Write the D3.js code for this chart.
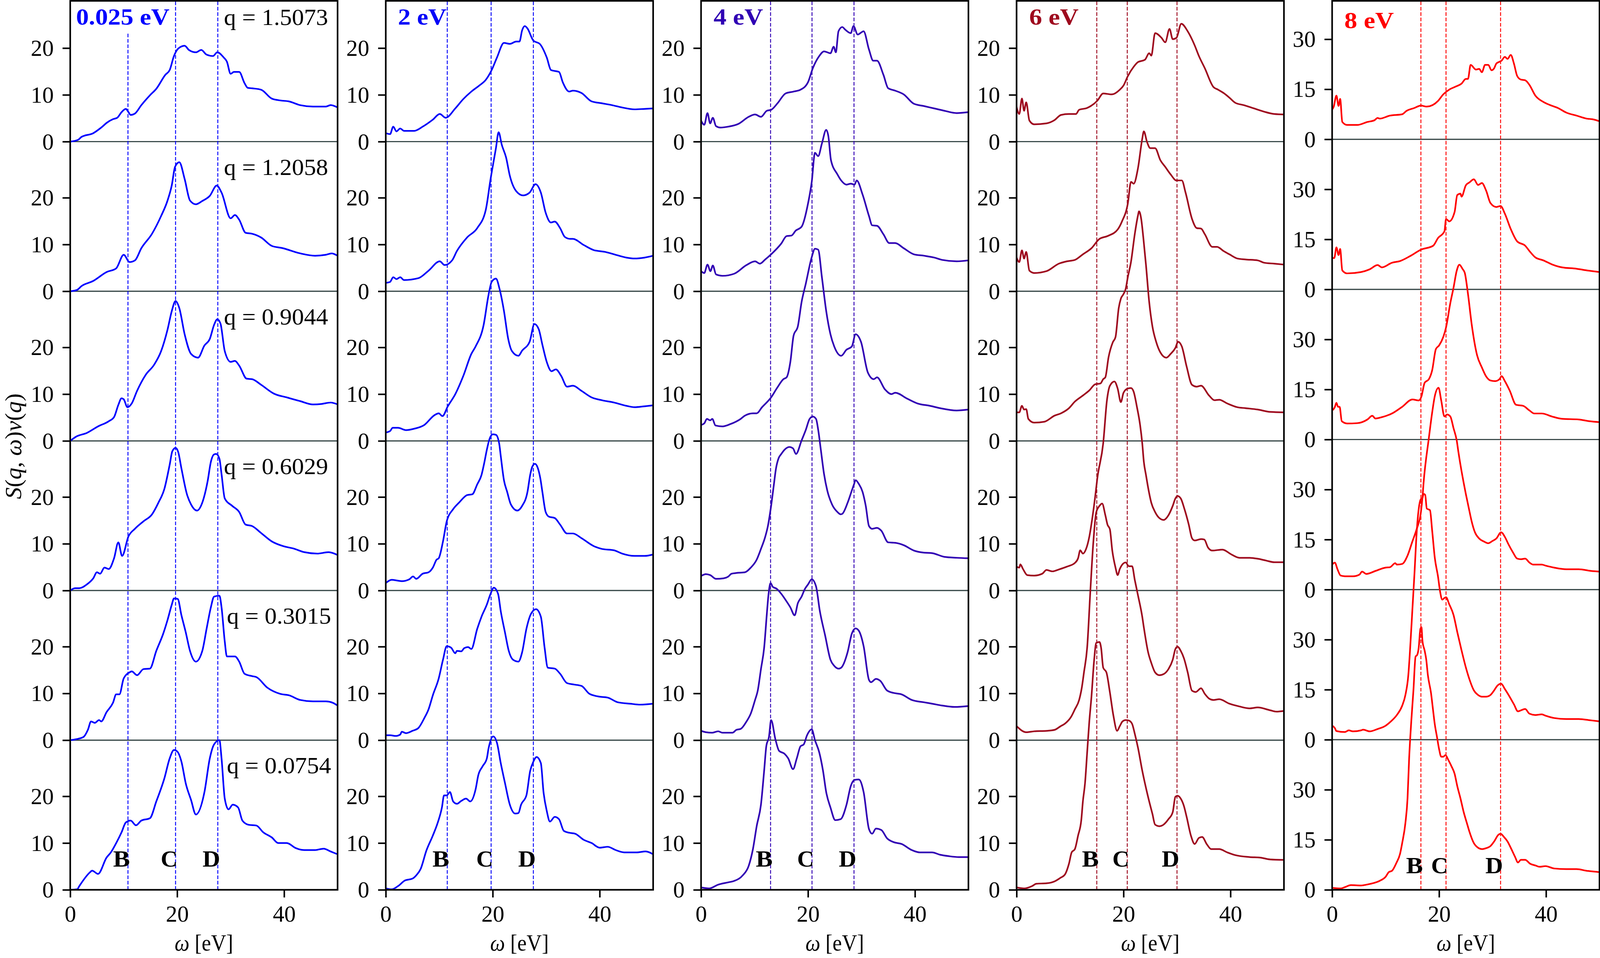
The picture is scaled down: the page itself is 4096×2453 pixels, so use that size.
<!DOCTYPE html>
<html><head><meta charset="utf-8">
<script src="https://cdn.jsdelivr.net/npm/d3@7"></script>
<style>html,body{margin:0;padding:0;background:#fff}svg{display:block}</style>
</head><body><svg id="chart"></svg>
<script>
// ---------------- data ----------------
const energies = ["0.025 eV", "2 eV", "4 eV", "6 eV", "8 eV"];
const qValues = ["1.5073", "1.2058", "0.9044", "0.6029", "0.3015", "0.0754"];
const peakB = [10.8, 11.5, 13.0, 15.0, 16.6];
const peakC = [19.7, 19.7, 20.75, 20.7, 21.3];
const peakD = [27.6, 27.6, 28.6, 30.0, 31.5];
const peakNames = ["B", "C", "D"];
const rowStep = [32, 32, 32, 32, 45];
const yTickSets = [[0, 10, 20], [0, 10, 20], [0, 10, 20], [0, 10, 20], [0, 15, 30]];
const xTicks = [0, 20, 40];

// 0.025 eV
const s025_q15073 = [[0,0],[1.5,0.4],[2.1,1.0],[4.3,1.8],[6.0,3.2],[6.8,4.0],[8.0,4.8],[8.8,5.1],[9.6,6.3],[10.4,7.0],[10.85,6.4],[11.3,5.7],[12.1,6.0],[13.3,7.8],[14.9,9.9],[16.1,11.3],[17.8,14.3],[18.6,15.3],[19.4,18.3],[20.2,19.9],[21.4,20.5],[22.2,19.6],[23.5,19.1],[24.5,19.6],[25.5,18.6],[26.7,18.3],[27.5,19.1],[28.7,18.0],[29.3,17.1],[30.0,14.5],[30.6,14.9],[31.6,14.9],[32.6,12.5],[33.2,11.5],[34.0,11.4],[35.7,11.1],[37.7,9.2],[39.3,8.8],[40.9,8.6],[43.0,7.8],[45.4,7.5],[47.8,7.5],[48.7,7.8],[50,7.3]];
const s025_q12058 = [[0,0],[1.3,0.3],[2.1,1.1],[4.3,2.2],[6.8,4.1],[8.6,4.9],[10.0,7.8],[11.1,6.25],[12.1,6.6],[13.3,9.2],[15.3,12.3],[17.0,16.1],[18.2,19.4],[19.0,22.7],[19.6,26.6],[20.4,27.6],[21.4,24.0],[22.4,19.4],[23.5,18.6],[24.7,19.3],[26.1,20.4],[27.4,22.6],[28.3,21.1],[30.0,15.6],[30.8,16.3],[31.6,15.3],[32.8,12.5],[34.0,12.3],[35.7,11.5],[37.7,9.7],[39.8,9.2],[43.0,8.1],[45.8,7.6],[47.8,7.8],[48.9,8.1],[50,7.6]];
const s025_q09044 = [[0,0],[1.1,0.9],[3.1,1.7],[5.2,3.1],[7.2,4.2],[8.2,5.1],[9.0,7.7],[9.6,9.1],[10.0,8.9],[10.7,7.2],[11.5,8.0],[12.5,10.7],[14.1,14.1],[15.7,16.3],[17.0,19.2],[18.2,23.8],[19.0,27.8],[19.7,29.9],[20.4,28.4],[21.4,22.8],[22.6,18.6],[23.9,17.8],[25.1,20.4],[26.1,21.8],[26.9,24.8],[27.5,26.0],[28.1,25.1],[28.9,19.2],[30.0,16.9],[30.8,17.1],[31.6,16.1],[33.0,13.3],[34.0,13.2],[35.7,12.0],[38.1,10.1],[40.5,9.3],[43.0,8.5],[45.4,7.8],[47.0,7.9],[48.7,8.2],[50,7.8]];
const s025_q06029 = [[0,0],[0.9,0.5],[1.7,0.5],[3.1,1.3],[4.3,2.6],[5.0,3.9],[5.6,3.6],[6.4,4.9],[7.2,4.6],[8.2,6.9],[9.0,10.3],[9.7,7.4],[10.9,11.6],[12.1,13.2],[13.7,14.8],[15.3,16.3],[16.5,18.8],[17.6,21.7],[18.6,26.9],[19.1,29.8],[19.7,30.5],[20.2,29.6],[20.8,26.1],[21.8,20.7],[22.6,18.4],[23.7,17.1],[24.7,18.8],[25.7,23.4],[26.3,27.5],[26.9,29.1],[27.3,29.2],[27.9,28.2],[28.3,24.9],[28.9,19.7],[30.3,18.1],[31.6,16.8],[32.8,14.1],[34.0,13.8],[35.7,12.3],[37.7,10.5],[39.8,9.5],[41.7,9.0],[43.8,8.2],[46.2,7.9],[48.3,8.2],[50,7.6]];
const s025_q03015 = [[0,0],[1.1,0.2],[2.5,0.7],[3.3,2.2],[3.9,4.0],[4.6,3.7],[5.4,4.3],[5.8,4.0],[6.8,6.0],[8.0,8.0],[8.6,9.8],[9.2,9.8],[10.0,13.2],[11.1,14.5],[11.5,14.7],[12.5,13.9],[13.7,15.2],[14.9,15.3],[16.1,19.1],[17.4,22.8],[18.2,25.7],[19.0,29.0],[19.4,30.3],[20.1,30.2],[20.8,26.7],[21.6,23.1],[22.4,19.1],[23.5,16.8],[24.7,19.1],[25.5,23.8],[26.3,28.4],[26.9,30.7],[27.9,30.9],[28.3,28.4],[28.9,21.1],[29.3,17.9],[30.8,17.9],[31.6,16.8],[32.6,14.2],[34.0,13.7],[34.8,13.5],[36.9,11.2],[39.3,9.9],[40.9,9.6],[43.0,8.6],[45.4,8.3],[47.8,8.3],[49.1,8.0],[50,7.4]];
const s025_q00754 = [[0,0],[1.3,0.1],[1.7,0.8],[3.7,3.75],[4.1,4.1],[5.2,3.4],[6.8,6.9],[7.6,8.0],[8.6,10.0],[9.6,12.3],[10.4,14.4],[11.3,14.8],[12.3,13.8],[13.3,14.8],[14.9,15.3],[16.1,18.9],[17.6,23.8],[18.6,28.1],[19.4,29.9],[20.0,29.6],[20.8,27.4],[21.6,22.8],[22.6,19.2],[23.5,16.1],[25.1,20.9],[26.1,28.1],[26.9,31.1],[27.9,32.0],[28.3,28.1],[28.9,19.5],[29.6,17.2],[30.4,18.2],[31.4,17.6],[32.2,14.8],[33.4,13.9],[34.8,13.75],[36.1,12.3],[37.7,11.2],[38.9,10.0],[40.5,10.0],[42.2,8.9],[43.8,8.5],[45.8,8.5],[47.4,8.8],[48.7,8.2],[50,7.6]];

// 2 eV
const s2_q15073 = [[0,1.8],[0.8,1.6],[1.4,3.2],[2.0,2.2],[2.7,2.8],[3.4,2.3],[5.3,2.3],[6.9,3.2],[8.8,4.7],[10.1,5.9],[11.2,5.1],[13.0,7.1],[14.5,9.1],[16.0,10.7],[17.5,12.0],[18.7,13.2],[19.8,15.3],[20.8,18.0],[22.1,21.1],[23.2,20.9],[24.4,21.4],[25.0,21.4],[25.5,23.8],[26.0,24.7],[26.5,24.2],[27.6,21.6],[28.8,20.9],[30.1,18.0],[30.9,15.3],[32.4,14.9],[33.1,12.7],[34.3,10.7],[35.0,10.9],[36.6,10.4],[38.5,8.6],[40.4,8.2],[42.3,7.8],[44.2,7.3],[46.5,6.9],[48.4,7.0],[50,7.1]];
const s2_q12058 = [[0,1.8],[0.8,2.0],[1.4,3.0],[2.0,2.6],[2.7,3.0],[3.4,2.4],[6.1,2.8],[8.0,4.4],[10.1,6.4],[11.0,5.6],[12.4,6.6],[13.3,8.6],[15.2,11.5],[17.1,13.5],[18.7,17.4],[19.6,24.0],[20.6,30.6],[21.1,34.0],[21.7,31.3],[22.5,28.6],[23.2,24.7],[24.4,21.4],[25.7,20.5],[26.9,21.1],[28.0,22.9],[29.0,21.1],[29.9,16.8],[30.9,14.7],[31.6,14.9],[32.6,13.5],[33.5,11.6],[34.5,11.2],[35.0,11.2],[37.0,9.9],[38.9,8.8],[41.1,8.4],[42.7,7.9],[45.0,7.2],[46.5,7.0],[48.4,7.2],[50,7.6]];
const s2_q09044 = [[0,1.8],[0.8,2.1],[1.3,2.8],[2.3,2.8],[3.8,2.3],[5.3,2.6],[7.2,3.4],[9.1,5.5],[9.9,5.9],[10.6,5.3],[11.6,7.4],[13.0,10.0],[14.5,13.9],[16.0,18.6],[16.8,20.2],[18.3,24.8],[19.2,31.1],[19.8,34.0],[20.6,34.7],[21.3,32.4],[22.1,27.8],[22.9,21.8],[23.6,19.2],[24.8,18.2],[25.5,19.3],[26.9,21.2],[27.8,25.0],[28.6,23.9],[29.3,20.5],[30.1,16.9],[31.0,14.9],[31.8,15.3],[32.8,13.9],[33.9,11.6],[35.0,11.8],[36.6,10.7],[38.5,9.3],[40.4,8.7],[42.7,8.2],[45.0,7.5],[46.5,7.2],[48.4,7.4],[50,7.6]];
const s2_q06029 = [[0,1.6],[1.1,2.3],[2.3,2.1],[3.0,2.0],[4.4,2.4],[5.1,3.0],[5.7,2.5],[6.9,3.6],[8.0,3.9],[8.8,4.9],[9.5,6.6],[9.9,6.9],[10.7,10.5],[11.4,14.8],[12.6,17.4],[13.7,18.8],[15.2,20.4],[16.2,20.6],[17.1,22.7],[17.9,24.7],[18.4,27.2],[18.9,30.1],[19.4,32.4],[20.0,33.4],[20.6,33.3],[21.2,31.5],[21.5,28.8],[22.1,23.6],[22.7,21.1],[23.4,18.4],[24.6,17.1],[25.5,18.1],[26.5,21.1],[27.0,24.7],[27.4,26.5],[27.9,27.1],[28.4,26.3],[28.9,24.0],[29.3,21.0],[29.9,16.8],[30.5,15.8],[31.6,15.5],[32.6,14.1],[33.9,12.2],[35.0,12.2],[36.6,11.2],[38.9,9.5],[40.4,8.9],[42.7,8.6],[44.2,7.9],[46.5,7.4],[48.4,7.4],[50,7.7]];
const s2_q03015 = [[0,1.05],[0.8,1.05],[1.9,0.9],[2.7,1.2],[3.0,1.8],[3.8,1.5],[5.0,2.0],[6.1,2.6],[7.2,4.7],[8.0,6.6],[8.8,9.6],[9.9,13.2],[10.7,17.2],[11.4,20.1],[12.2,19.8],[13.0,18.6],[13.3,19.1],[14.1,19.0],[14.7,19.7],[15.4,19.9],[16.0,19.5],[17.1,23.8],[17.9,26.4],[18.9,29.0],[19.6,31.3],[20.2,32.6],[21.0,31.3],[21.5,27.6],[22.3,23.0],[23.0,19.1],[23.8,17.2],[24.8,16.8],[25.5,18.8],[26.3,23.8],[27.2,27.1],[28.1,28.0],[29.0,26.4],[29.7,19.8],[30.3,15.5],[31.6,15.3],[32.6,14.2],[33.9,12.2],[35.2,11.9],[36.6,11.6],[38.1,9.9],[40.0,9.3],[41.5,9.1],[43.4,8.1],[45.7,7.8],[47.6,7.6],[50,7.8]];
const s2_q00754 = [[0,0.3],[1.1,0.1],[2.3,0.8],[3.6,2.0],[5.0,2.4],[5.7,3.1],[6.5,4.4],[7.6,8.4],[8.8,11.6],[9.7,14.3],[10.5,17.6],[10.9,20.2],[11.4,20.2],[12.0,20.9],[12.6,18.9],[13.3,18.4],[14.1,19.0],[15.0,19.5],[15.8,18.9],[16.8,21.5],[17.3,24.5],[18.1,26.4],[18.9,28.1],[19.2,30.1],[20.1,32.8],[20.8,31.4],[21.5,27.1],[22.3,22.8],[23.2,18.2],[24.2,16.3],[24.8,16.4],[25.3,18.2],[26.3,20.2],[27.0,25.4],[27.6,27.4],[28.2,28.4],[29.0,27.1],[29.5,20.9],[30.1,16.9],[30.7,14.6],[31.6,15.6],[32.4,15.1],[33.3,12.6],[34.3,12.2],[35.4,12.0],[37.0,10.7],[38.5,10.0],[40.0,9.0],[41.5,9.2],[43.0,8.5],[44.6,8.0],[46.9,8.0],[48.6,8.2],[50,7.6]];

// 4 eV
const s4_q15073 = [[0,4.5],[0.6,3.6],[1.2,6.1],[1.7,3.9],[2.2,5.1],[2.8,3.3],[3.6,3.0],[5.1,3.2],[7.0,3.8],[8.9,5.3],[10.1,5.8],[11.2,5.3],[12.3,6.6],[13.1,6.8],[14.3,8.2],[15.8,10.3],[17.3,10.7],[18.6,11.1],[20.0,12.7],[20.9,15.7],[22.1,18.3],[23.0,19.3],[24.2,18.9],[24.8,20.3],[25.2,19.1],[25.7,23.6],[26.4,24.5],[27.0,23.9],[28.0,23.2],[28.5,24.7],[29.3,22.9],[30.4,23.6],[31.4,19.7],[32.2,17.3],[32.9,17.3],[34.1,14.3],[35.0,11.4],[36.3,10.9],[37.9,10.1],[39.8,8.1],[41.7,7.6],[43.6,7.1],[45.5,6.6],[47.8,6.1],[50,6.3]];
const s4_q12058 = [[0,4.3],[0.6,3.9],[1.2,5.7],[1.75,4.3],[2.2,5.5],[2.8,3.6],[4.0,3.3],[6.2,3.75],[8.5,5.6],[10.1,6.4],[11.0,5.9],[12.0,6.8],[13.1,7.9],[15.0,10.2],[16.0,11.8],[16.9,11.9],[17.7,12.96],[18.8,13.8],[20.0,18.75],[20.7,23.4],[21.3,29.6],[21.9,28.9],[22.6,31.6],[23.4,34.5],[23.8,33.2],[24.3,28.0],[25.5,25.0],[26.2,23.7],[27.2,22.8],[28.0,23.0],[28.7,22.8],[29.1,23.7],[30.2,20.7],[31.4,16.1],[32.0,14.1],[32.9,14.0],[34.1,12.2],[35.2,10.3],[36.3,10.3],[37.9,9.2],[39.8,7.9],[41.7,7.6],[43.6,7.2],[45.1,6.7],[47.8,6.4],[50,6.6]];
const s4_q09044 = [[0,3.4],[0.6,3.75],[1.1,4.7],[1.7,4.4],[2.1,4.7],[2.7,3.3],[4.0,3.1],[5.5,3.6],[7.4,4.7],[8.2,5.4],[9.7,5.9],[10.4,5.9],[11.4,7.2],[13.1,9.3],[14.2,11.3],[15.4,13.2],[16.0,13.6],[16.7,16.9],[17.3,22.5],[18.1,24.5],[18.8,29.7],[19.6,33.7],[20.7,39.3],[21.3,41.1],[21.9,40.9],[22.6,35.0],[23.4,27.8],[24.2,22.8],[24.9,20.2],[26.2,18.2],[27.2,19.5],[28.2,20.2],[28.9,22.8],[29.9,21.2],[31.2,14.6],[32.3,13.2],[32.9,13.6],[34.4,11.0],[35.6,10.0],[36.3,10.3],[38.6,9.0],[40.5,8.0],[42.8,7.5],[44.7,7.0],[47.8,6.5],[50,6.7]];
const s4_q06029 = [[0,3.1],[0.9,3.5],[1.7,3.3],[2.8,2.5],[4.2,2.6],[5.1,3.0],[5.7,3.6],[6.6,3.75],[8.2,3.9],[9.3,4.9],[10.4,6.6],[11.2,8.9],[12.0,11.5],[12.5,13.8],[13.1,18.1],[13.6,22.5],[14.0,26.0],[14.5,28.3],[15.0,29.2],[15.6,30.1],[16.5,30.7],[17.2,30.4],[17.75,29.2],[18.8,32.1],[19.6,34.4],[20.3,36.7],[20.9,37.2],[21.5,36.7],[21.9,34.4],[22.4,30.1],[23.0,24.9],[23.6,21.4],[24.5,18.4],[25.5,16.8],[26.1,16.3],[26.4,16.4],[27.4,18.75],[28.2,21.4],[28.6,22.7],[28.9,23.6],[29.5,22.8],[30.2,21.1],[30.8,18.1],[31.4,13.8],[32.0,13.2],[32.9,13.4],[33.7,12.8],[35.0,10.3],[36.3,10.2],[37.9,9.7],[39.8,8.55],[41.7,8.1],[43.2,8.0],[45.5,7.2],[47.8,7.0],[50,6.9]];
const s4_q03015 = [[0,2.0],[0.9,1.7],[2.1,1.6],[3.2,1.9],[4.0,1.6],[5.9,1.6],[6.6,2.2],[7.4,2.4],[8.5,4.0],[9.3,5.7],[10.1,8.6],[10.6,10.6],[11.2,15.2],[11.8,19.8],[12.3,27.0],[12.6,31.0],[13.0,33.6],[13.4,32.8],[14.1,32.4],[15.0,31.3],[15.8,30.0],[16.7,28.4],[17.5,26.7],[18.1,29.3],[18.8,30.7],[19.4,32.3],[20.0,33.3],[20.7,34.4],[21.5,32.9],[22.2,27.7],[23.2,22.4],[24.2,17.2],[24.9,15.9],[25.7,15.3],[26.2,15.5],[27.4,18.8],[28.2,22.8],[28.9,23.9],[29.5,23.4],[30.4,20.1],[31.4,12.9],[31.8,12.4],[32.7,13.1],[33.5,12.7],[34.8,10.6],[36.0,10.1],[37.5,9.8],[39.4,8.6],[41.7,8.1],[43.2,7.8],[45.1,7.4],[47.4,7.1],[50,7.3]];
const s4_q00754 = [[0,0.5],[1.5,0.3],[3.2,1.1],[5.1,1.6],[6.2,1.9],[7.8,3.1],[8.9,5.1],[9.7,8.7],[10.4,13.6],[11.2,18.2],[11.8,25.5],[12.2,30.7],[12.7,32.7],[13.1,36.3],[13.9,32.2],[14.6,29.7],[15.6,29.1],[16.3,28.1],[17.2,25.8],[17.9,28.1],[18.6,30.7],[19.2,31.1],[19.8,33.0],[20.7,34.3],[21.3,32.0],[22.1,29.4],[22.8,25.5],[23.4,20.9],[24.2,17.6],[25.1,14.9],[26.1,15.1],[27.2,18.2],[28.0,22.2],[28.7,23.5],[29.5,23.6],[30.4,20.9],[31.4,13.0],[32.0,12.0],[32.7,13.1],[33.7,12.8],[34.8,11.0],[36.0,10.2],[37.5,9.8],[39.4,8.5],[40.9,8.0],[43.2,8.0],[44.7,7.5],[46.3,7.2],[48.2,7.0],[50,7.0]];

// 6 eV
const s6_q15073 = [[0,7.4],[0.5,5.9],[1.0,9.2],[1.4,6.6],[1.8,8.4],[2.4,4.5],[3.3,3.7],[5.6,3.9],[7.1,4.6],[8.3,5.7],[9.8,5.9],[11.1,5.9],[11.7,6.8],[13.2,7.2],[15.1,8.75],[16.2,10.3],[17.8,10.1],[19.3,11.1],[20.0,12.0],[20.8,14.0],[21.9,16.0],[22.7,17.0],[24.0,17.5],[24.8,18.9],[25.2,18.4],[25.9,23.2],[27.1,22.2],[27.8,21.25],[28.6,24.1],[29.2,21.9],[29.9,22.2],[30.8,25.2],[32.0,23.6],[33.3,20.6],[34.1,18.3],[35.2,15.7],[36.8,11.7],[37.7,11.1],[38.7,10.4],[39.8,9.4],[40.9,8.3],[42.5,7.8],[44.4,7.1],[46.3,6.4],[48.2,5.9],[50,5.8]];
const s6_q12058 = [[0,7.2],[0.5,6.25],[1.0,8.75],[1.4,7.0],[1.8,8.4],[2.4,4.4],[3.3,3.9],[5.6,4.3],[7.9,5.9],[9.4,6.4],[10.9,6.7],[12.4,7.9],[14.0,9.2],[15.5,11.2],[17.0,11.8],[18.9,13.2],[19.7,14.9],[20.8,18.75],[21.4,23.4],[21.9,23.0],[22.7,26.3],[23.5,32.6],[23.8,34.2],[24.4,31.9],[25.0,30.6],[25.9,30.6],[26.9,28.0],[27.8,26.6],[28.8,25.0],[29.9,23.7],[30.9,23.7],[31.6,21.1],[32.8,15.5],[33.7,13.5],[34.5,13.4],[35.2,12.2],[36.6,9.5],[37.5,9.5],[38.7,8.6],[39.8,7.9],[41.3,7.0],[42.8,6.8],[45.1,6.6],[46.3,6.1],[48.2,5.9],[50,5.7]];
const s6_q09044 = [[0,6.1],[0.5,6.1],[1.0,7.5],[1.4,6.7],[1.8,6.8],[2.2,4.7],[3.3,3.9],[5.2,4.1],[7.1,5.4],[8.3,5.9],[9.8,7.0],[10.9,8.4],[12.4,9.7],[13.6,10.8],[14.7,12.1],[15.7,12.3],[16.2,13.2],[16.6,13.6],[17.2,17.9],[18.0,21.1],[18.5,22.2],[19.1,28.4],[19.5,30.4],[20.0,31.4],[20.4,32.5],[20.8,35.0],[21.4,38.3],[22.1,44.2],[22.7,48.2],[22.9,49.1],[23.3,47.5],[23.7,43.5],[24.2,37.6],[24.8,29.7],[25.4,24.5],[26.1,21.2],[26.9,18.9],[28.0,17.8],[28.8,18.6],[29.7,19.9],[30.2,21.2],[30.9,20.2],[31.8,15.9],[32.8,12.0],[33.7,11.6],[34.5,11.8],[36.0,9.7],[37.0,8.7],[37.9,8.8],[39.4,8.0],[41.3,7.2],[42.8,7.0],[45.1,6.7],[47.4,6.2],[50,6.1]];
const s6_q06029 = [[0,5.1],[0.5,4.9],[0.7,5.6],[1.2,4.6],[2.0,3.3],[3.3,3.2],[4.8,3.6],[5.6,4.4],[6.7,4.1],[7.9,4.5],[9.4,5.1],[10.9,5.9],[11.5,6.9],[11.9,8.6],[12.4,7.9],[13.0,8.9],[13.6,11.5],[14.1,15.0],[14.7,20.1],[15.1,24.0],[16.2,31.5],[16.9,40.7],[17.45,43.8],[18.3,44.7],[18.9,43.2],[19.5,40.3],[20.0,42.3],[20.8,43.2],[21.4,43.3],[21.9,42.5],[22.5,39.3],[23.1,35.4],[23.5,31.5],[23.8,27.5],[24.2,24.7],[24.6,22.0],[25.2,18.75],[25.9,16.8],[26.7,15.5],[27.5,15.1],[28.4,16.1],[29.2,18.1],[29.7,19.7],[30.1,20.2],[30.7,19.7],[31.4,17.4],[32.2,14.1],[32.8,11.2],[33.3,10.7],[34.5,11.0],[35.1,10.9],[35.8,9.2],[36.6,8.55],[38.5,8.75],[40.2,7.7],[41.7,7.0],[43.6,7.0],[45.1,6.8],[46.7,6.4],[48.2,6.05],[50,6.05]];
const s6_q03015 = [[0,3.0],[1.8,1.7],[3.3,1.9],[5.6,2.0],[7.1,2.2],[8.25,3.0],[9.0,3.5],[10.2,5.0],[10.9,6.6],[11.7,8.6],[12.2,11.25],[12.6,14.5],[13.2,19.8],[13.8,32.0],[14.3,41.5],[14.9,48.75],[15.5,50.1],[16.0,50.6],[16.6,48.1],[17.0,46.1],[17.45,45.1],[17.9,40.5],[18.5,36.9],[18.9,35.3],[19.3,36.6],[19.8,37.6],[20.4,38.0],[21.0,37.2],[21.6,37.2],[22.1,34.3],[22.7,31.0],[23.5,26.4],[23.8,24.1],[24.6,18.8],[25.2,16.5],[25.9,14.5],[26.7,13.9],[27.6,14.2],[28.4,15.2],[29.2,17.2],[29.7,19.5],[30.1,20.0],[30.7,19.1],[31.3,17.5],[32.0,14.5],[32.8,10.6],[33.5,10.3],[34.5,11.1],[35.2,9.9],[36.0,8.9],[36.8,8.6],[37.9,8.75],[39.8,7.8],[41.7,7.2],[43.6,6.8],[45.1,7.0],[47.4,6.4],[48.6,6.1],[50,6.25]];
const s6_q00754 = [[0,0.5],[1.4,0.3],[2.9,0.8],[3.7,1.3],[5.6,1.4],[7.1,1.8],[8.25,2.6],[9.0,3.2],[9.8,5.6],[10.3,8.0],[10.9,8.7],[11.5,11.6],[12.1,14.9],[12.4,18.9],[12.8,22.8],[13.2,29.4],[13.6,36.0],[14.0,41.25],[14.5,49.1],[14.9,52.8],[15.5,53.0],[15.8,51.8],[16.2,47.5],[16.8,46.5],[17.4,42.6],[18.1,37.3],[18.8,34.0],[19.3,35.0],[19.8,36.0],[20.4,36.3],[21.0,36.2],[21.6,35.5],[22.1,33.4],[22.7,30.4],[23.5,25.5],[24.0,22.8],[24.8,18.9],[25.4,16.25],[25.9,13.95],[26.7,13.6],[27.5,13.95],[28.4,15.1],[29.2,16.6],[29.7,19.9],[30.1,20.1],[30.7,19.5],[31.3,17.9],[31.8,15.6],[32.6,11.6],[33.3,9.8],[34.1,11.1],[34.7,11.3],[35.6,9.7],[36.4,8.7],[37.9,8.7],[39.4,8.0],[40.95,7.4],[43.6,7.0],[45.5,6.9],[47.4,6.5],[50,6.4]];

// 8 eV
const s8_q15073 = [[0,8.9],[0.3,9.8],[0.8,13.1],[1.2,10.0],[1.5,12.1],[1.9,5.2],[2.8,4.3],[4.7,4.3],[6.6,5.2],[7.9,5.7],[8.5,6.4],[8.9,6.2],[10.8,7.1],[13.1,7.5],[13.9,8.5],[15.4,9.4],[16.6,10.1],[17.7,9.8],[19.8,11.5],[20.8,13.5],[21.9,14.9],[23.1,15.8],[24.2,16.7],[25.0,18.1],[25.4,18.1],[25.9,22.3],[26.9,20.9],[27.5,21.1],[28.0,20.1],[28.6,22.3],[29.2,22.3],[29.8,20.7],[30.3,21.3],[30.7,22.7],[31.7,23.6],[32.3,24.7],[32.8,24.1],[33.4,25.3],[34.0,22.7],[34.6,19.0],[35.3,17.9],[36.1,17.7],[36.9,16.3],[38.0,13.1],[39.5,11.2],[40.7,10.3],[42.2,9.4],[43.8,8.0],[45.7,7.1],[47.6,6.2],[48.7,6.0],[50,5.4]];
const s8_q12058 = [[0,9.4],[0.4,9.4],[0.8,12.6],[1.2,10.3],[1.5,12.1],[1.9,5.7],[2.8,4.8],[5.4,5.2],[7.0,6.0],[8.5,7.3],[9.3,6.6],[11.2,8.0],[12.7,8.5],[14.6,10.0],[16.6,11.9],[18.9,13.1],[19.8,15.4],[21.0,17.4],[21.3,21.1],[21.9,20.4],[22.9,23.2],[23.4,28.3],[24.0,28.7],[24.2,27.8],[25.0,31.2],[25.7,32.1],[26.5,33.0],[27.3,31.3],[28.0,31.9],[28.8,29.6],[29.6,25.9],[30.7,24.7],[31.5,25.0],[32.3,22.7],[33.4,18.1],[34.6,14.4],[36.1,13.1],[36.9,11.5],[38.0,9.6],[39.5,8.7],[41.1,7.5],[43.0,6.6],[45.7,6.2],[47.6,5.7],[50,5.2]];
const s8_q09044 = [[0,8.7],[0.5,9.7],[0.8,11.0],[1.1,9.8],[1.4,9.8],[1.8,5.5],[2.8,4.8],[4.7,4.9],[6.6,6.0],[7.5,7.1],[8.1,6.3],[9.3,6.7],[11.2,7.8],[13.1,9.8],[15.0,12.0],[16.2,11.7],[16.7,12.9],[17.3,17.0],[18.1,18.1],[18.7,20.7],[19.4,27.1],[20.0,28.2],[20.8,30.8],[21.3,33.6],[22.1,40.9],[22.7,45.5],[23.3,50.6],[23.8,52.4],[24.4,51.1],[24.8,50.0],[25.4,43.7],[26.1,34.5],[27.1,25.3],[28.0,21.6],[28.8,18.9],[29.6,17.7],[30.5,17.5],[31.3,18.1],[31.7,19.0],[32.3,17.5],[33.2,14.7],[34.4,10.4],[35.7,10.1],[36.9,8.7],[37.8,7.8],[39.2,7.8],[41.1,6.9],[43.0,6.2],[46.1,6.0],[48.0,5.5],[50,5.2]];
const s8_q06029 = [[0,7.5],[0.5,8.1],[1.0,6.1],[1.6,4.2],[2.4,4.0],[3.9,4.0],[5.1,4.5],[5.6,5.4],[6.4,4.7],[8.1,5.6],[10.0,6.6],[10.8,6.7],[11.8,7.9],[12.1,7.5],[13.1,7.7],[14.1,10.2],[15.0,14.4],[15.8,18.1],[16.6,23.2],[16.9,27.8],[17.1,32.0],[18.1,45.6],[18.7,53.0],[19.2,58.0],[19.9,60.5],[20.4,56.7],[21.0,51.9],[21.5,52.5],[22.1,51.9],[22.7,48.4],[23.3,44.7],[23.6,41.4],[24.2,35.5],[24.6,32.0],[25.0,28.7],[25.6,24.1],[26.1,20.4],[26.7,17.2],[27.5,15.3],[28.4,14.4],[29.2,13.9],[30.0,14.6],[30.7,15.3],[31.6,17.2],[32.3,15.8],[33.0,13.5],[33.8,11.2],[34.6,9.3],[35.3,9.1],[36.1,9.3],[36.9,8.1],[37.6,7.5],[39.2,7.5],[39.9,7.2],[41.5,6.6],[43.8,6.1],[46.1,6.1],[48.4,5.6],[50,5.4]];
const s8_q03015 = [[0,4.2],[0.5,3.5],[0.8,2.6],[2.4,2.3],[3.1,2.8],[3.9,2.5],[5.4,2.8],[5.8,3.0],[7.0,2.5],[8.5,3.2],[10.0,4.2],[11.0,5.5],[12.1,7.4],[13.1,10.2],[13.7,13.4],[14.25,19.4],[14.6,27.7],[15.0,38.8],[15.4,49.9],[15.8,61.9],[16.2,69.3],[16.55,72.0],[16.9,72.5],[17.1,73.7],[17.4,73.4],[17.7,69.3],[18.3,68.8],[18.7,62.8],[19.2,54.5],[19.8,48.9],[20.2,44.3],[20.6,42.0],[21.0,42.5],[21.3,42.7],[21.9,40.6],[22.7,37.4],[23.4,32.3],[24.2,26.8],[25.0,21.7],[25.7,18.0],[26.5,14.8],[27.3,13.4],[28.0,12.9],[28.8,12.9],[29.6,13.4],[30.3,14.8],[30.9,16.2],[31.6,16.8],[32.3,15.2],[33.0,13.4],[34.0,10.6],[34.75,8.5],[35.3,8.8],[36.1,9.2],[36.9,7.8],[38.0,7.4],[39.2,7.6],[39.9,7.2],[41.5,6.5],[43.8,6.2],[46.1,6.2],[48.4,5.8],[50,5.5]];
const s8_q00754 = [[0,0.6],[1.6,0.4],[2.4,0.8],[3.5,1.4],[5.4,1.3],[6.6,1.6],[7.7,2.0],[8.9,2.7],[10.0,3.9],[10.6,5.3],[11.2,5.7],[12.0,8.0],[12.7,10.8],[13.1,14.0],[13.7,20.0],[14.1,27.4],[14.4,39.4],[14.8,50.5],[15.2,59.7],[15.6,69.9],[15.9,70.4],[16.2,72.7],[16.5,78.2],[16.7,78.7],[16.9,74.5],[17.3,71.7],[17.6,69.0],[17.9,64.4],[18.5,58.9],[18.85,54.2],[19.2,49.6],[19.6,45.9],[20.0,42.2],[20.4,39.9],[20.8,39.9],[21.2,40.4],[21.7,39.0],[22.3,37.1],[22.9,34.8],[23.4,31.1],[24.0,27.4],[24.6,23.3],[25.2,20.0],[25.7,17.3],[26.5,14.0],[27.3,12.6],[28.0,12.2],[28.8,12.5],[29.6,13.1],[30.3,14.5],[31.1,16.5],[31.5,16.8],[32.1,15.9],[32.8,14.5],[33.4,12.6],[34.2,9.9],[34.75,8.2],[35.3,9.0],[36.1,9.0],[37.0,7.85],[38.0,7.3],[38.8,6.9],[39.9,7.1],[41.5,6.4],[43.8,6.2],[45.7,6.2],[47.6,5.7],[50,5.3]];

const series = [
  [s025_q15073, s025_q12058, s025_q09044, s025_q06029, s025_q03015, s025_q00754],
  [s2_q15073, s2_q12058, s2_q09044, s2_q06029, s2_q03015, s2_q00754],
  [s4_q15073, s4_q12058, s4_q09044, s4_q06029, s4_q03015, s4_q00754],
  [s6_q15073, s6_q12058, s6_q09044, s6_q06029, s6_q03015, s6_q00754],
  [s8_q15073, s8_q12058, s8_q09044, s8_q06029, s8_q03015, s8_q00754]
];

// ---------------- layout & style ----------------
const W = 4177, H = 2501;
const plotTop = 2, plotBottom = 2323.2, plotW = 698;
const colLeft = [183.3, 1007.1, 1830.2, 2653.9, 3477.7];
const yMax = [190.1, 190.1, 190.1, 190.1, 266.5];
const colors = ["#0000ff", "#0404f8", "#3000b4", "#9e0a1e", "#ff0000"];
const energyDx = [15.3, 31.7, 32.8, 32.9, 32.0];
const energyBase = [64, 64, 64, 64, 73];
const energyLen = [244, 127, 129, 129, 129];
const FONT = "'Liberation Serif', 'Times New Roman', serif";
const FS = 60;

const svg = d3.select("#chart")
  .attr("width", 4096).attr("height", 2453)
  .attr("viewBox", `0 0 ${W} ${H}`);
svg.append("rect").attr("width", W).attr("height", H).attr("fill", "#fff");

const defs = svg.append("defs");

energies.forEach((eLabel, c) => {
  const L = colLeft[c];
  const x = d3.scaleLinear().domain([0, 50]).range([L, L + plotW]);
  const y = d3.scaleLinear().domain([0, yMax[c]]).range([plotBottom, plotTop]);
  const g = svg.append("g");
  const clipId = "clip" + c;
  defs.append("clipPath").attr("id", clipId).append("rect")
    .attr("x", L).attr("y", plotTop).attr("width", plotW).attr("height", plotBottom - plotTop);
  const inner = g.append("g").attr("clip-path", `url(#${clipId})`);

  const offsets = qValues.map((q, r) => (qValues.length - 1 - r) * rowStep[c]);

  // row baselines
  offsets.forEach(off => {
    inner.append("line")
      .attr("x1", L).attr("x2", L + plotW)
      .attr("y1", y(off)).attr("y2", y(off))
      .attr("stroke", "#2f4040").attr("stroke-width", 3);
  });

  // dashed peak markers
  [peakB[c], peakC[c], peakD[c]].forEach((p, k) => {
    const topY = (c === 0 && k === 0) ? 87 : plotTop;
    inner.append("line")
      .attr("x1", x(p)).attr("x2", x(p))
      .attr("y1", plotBottom).attr("y2", topY)
      .attr("stroke", colors[c]).attr("stroke-width", 2.4)
      .attr("stroke-dasharray", "9.5,4.5");
  });

  // curves
  const line = d3.line().curve(d3.curveMonotoneX);
  series[c].forEach((pts, r) => {
    const off = offsets[r];
    line.x(d => x(d[0])).y(d => y(off + d[1]));
    inner.append("path")
      .attr("d", line(pts))
      .attr("fill", "none")
      .attr("stroke", colors[c])
      .attr("stroke-width", 4.3)
      .attr("stroke-linejoin", "round")
      .attr("stroke-linecap", "round");
  });

  // y axis
  const yTickVals = [];
  const yTickText = new Map();
  offsets.forEach(off => yTickSets[c].forEach(t => { yTickVals.push(off + t); yTickText.set(+(off + t).toFixed(3), String(t)); }));
  const yAxis = d3.axisLeft(y).tickValues(yTickVals)
    .tickFormat(v => yTickText.get(+v.toFixed(3)))
    .tickSize(20).tickSizeOuter(0).tickPadding(23);
  const ya = g.append("g").attr("transform", `translate(${L},0)`).call(yAxis);
  ya.select(".domain").remove();
  ya.selectAll(".tick line").attr("stroke", "#000").attr("stroke-width", 4);
  ya.selectAll(".tick text").attr("font-family", FONT).attr("font-size", FS).attr("fill", "#000").attr("dy", "0.33em");

  // x axis
  const xAxis = d3.axisBottom(x).tickValues(xTicks).tickFormat(d3.format("d"))
    .tickSize(20).tickSizeOuter(0).tickPadding(21);
  const xa = g.append("g").attr("transform", `translate(0,${plotBottom})`).call(xAxis);
  xa.select(".domain").remove();
  xa.selectAll(".tick line").attr("stroke", "#000").attr("stroke-width", 4);
  xa.selectAll(".tick text").attr("font-family", FONT).attr("font-size", FS).attr("fill", "#000");

  // frame
  g.append("rect")
    .attr("x", L).attr("y", plotTop).attr("width", plotW).attr("height", plotBottom - plotTop)
    .attr("fill", "none").attr("stroke", "#000").attr("stroke-width", 4.2);

  // x label
  const xl = g.append("text")
    .attr("x", L + plotW / 2).attr("y", 2482)
    .attr("text-anchor", "middle")
    .attr("font-family", FONT).attr("font-size", FS)
    .attr("textLength", 153).attr("lengthAdjust", "spacingAndGlyphs");
  xl.append("tspan").attr("font-style", "italic").text("ω");
  xl.append("tspan").text(" [eV]");

  // energy label
  g.append("text")
    .attr("x", L + energyDx[c]).attr("y", energyBase[c])
    .attr("font-family", FONT).attr("font-size", FS).attr("font-weight", "bold")
    .attr("fill", colors[c])
    .attr("textLength", energyLen[c]).attr("lengthAdjust", "spacingAndGlyphs")
    .text(eLabel);

  // B C D labels
  const bw = [44, 44, 46];
  [peakB[c], peakC[c], peakD[c]].forEach((p, k) => {
    g.append("text")
      .attr("x", x(p - 1.2)).attr("y", y(5))
      .attr("text-anchor", "middle")
      .attr("font-family", FONT).attr("font-size", FS).attr("font-weight", "bold")
      .attr("fill", "#000")
      .attr("textLength", bw[k]).attr("lengthAdjust", "spacingAndGlyphs")
      .text(peakNames[k]);
  });

  // q labels (first column only)
  if (c === 0) {
    qValues.forEach((q, r) => {
      const qx = r < 4 ? 28.75 : 29.3;
      g.append("text")
        .attr("x", x(qx)).attr("y", y(offsets[r] + 24.9))
        .attr("font-family", FONT).attr("font-size", FS).attr("fill", "#000")
        .attr("textLength", 272).attr("lengthAdjust", "spacingAndGlyphs")
        .text("q = " + q);
    });
  }
});

// y label
const ylab = svg.append("text")
  .attr("transform", "translate(55,1165) rotate(-90)")
  .attr("text-anchor", "middle")
  .attr("font-family", FONT).attr("font-size", FS).attr("fill", "#000")
  .attr("textLength", 276).attr("lengthAdjust", "spacingAndGlyphs");
[["S", true], ["(", false], ["q", true], [", ", false], ["ω", true], [")", false], ["v", true], ["(", false], ["q", true], [")", false]]
  .forEach(([t, it]) => ylab.append("tspan").attr("font-style", it ? "italic" : "normal").text(t));
</script>
</body></html>
